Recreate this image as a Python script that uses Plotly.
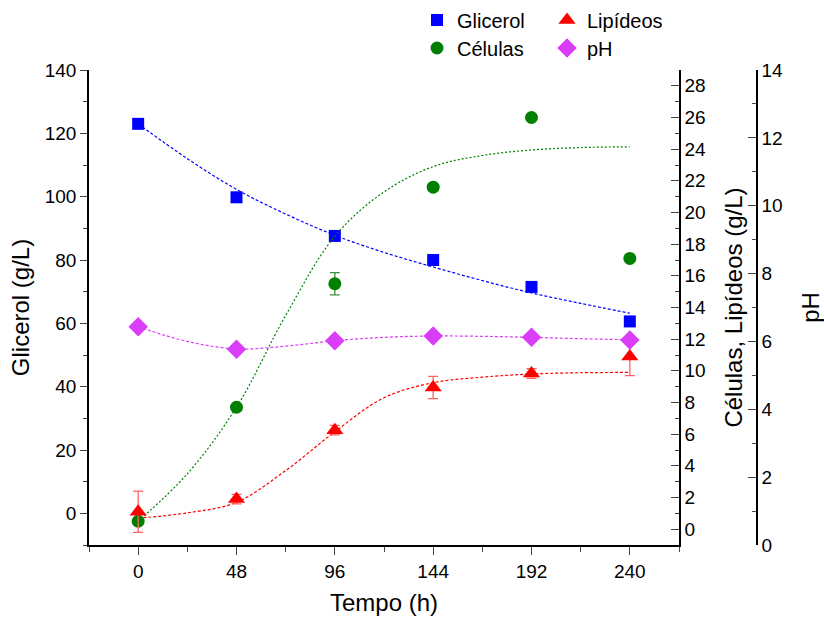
import plotly.graph_objects as go

# ---- data ----
time = [0, 48, 96, 144, 192, 240]
glicerol = [123.0, 99.8, 87.6, 80.0, 71.5, 60.6]
celulas = [0.5, 7.7, 15.5, 21.6, 26.0, 17.1]
celulas_err = [0.0, 0.0, 0.7, 0.0, 0.0, 0.0]
lipideos = [1.1, 1.9, 6.25, 8.95, 9.83, 10.9]
lipideos_err = [1.3, 0.3, 0.3, 0.7, 0.3, 1.2]
ph = [6.43, 5.77, 6.02, 6.16, 6.12, 6.04]

# fitted curves
time_fit = [0, 24, 48, 72, 96, 120, 144, 168, 192, 216, 240]
glicerol_fit = [123.0, 112.0, 102.3, 94.5, 87.8, 82.4, 77.8, 73.5, 69.6, 66.3, 63.2]
celulas_fit = [0.5, 3.5, 7.7, 13.5, 18.5, 21.3, 22.9, 23.6, 23.95, 24.1, 24.15]
lipideos_fit = [0.7, 1.03, 1.7, 3.7, 6.15, 8.3, 9.25, 9.6, 9.8, 9.88, 9.9]
ph_fit = [6.43, 6.0, 5.78, 5.86, 6.02, 6.12, 6.16, 6.15, 6.12, 6.08, 6.05]

x_ticks = [0, 48, 96, 144, 192, 240]

BLUE = "#0000FF"
GREEN = "#007F00"
RED = "#FF0000"
MAG = "#D93DF7"
FONT = "Liberation Sans, Arial, sans-serif"

fig = go.Figure()

# fit lines
fig.add_trace(go.Scatter(x=time_fit, y=glicerol_fit, mode="lines", line=dict(color=BLUE, width=1.2, dash="3px,2px", shape="spline"), showlegend=False, yaxis="y"))
fig.add_trace(go.Scatter(x=time_fit, y=celulas_fit, mode="lines", line=dict(color=GREEN, width=1.2, dash="2px,2px", shape="spline"), showlegend=False, yaxis="y2"))
fig.add_trace(go.Scatter(x=time_fit, y=lipideos_fit, mode="lines", line=dict(color=RED, width=1.2, dash="3px,2px", shape="spline"), showlegend=False, yaxis="y2"))
fig.add_trace(go.Scatter(x=time_fit, y=ph_fit, mode="lines", line=dict(color=MAG, width=1.2, dash="3px,2px", shape="spline"), showlegend=False, yaxis="y3"))

# markers
fig.add_trace(go.Scatter(x=time, y=glicerol, mode="markers", name="Glicerol",
                         marker=dict(symbol="square", size=12, color=BLUE), yaxis="y", legend="legend"))
fig.add_trace(go.Scatter(x=time, y=celulas, mode="markers", name="Células",
                         marker=dict(symbol="circle", size=13, color=GREEN),
                         error_y=dict(type="data", array=celulas_err, color="#3A8F3A", thickness=1.3, width=5),
                         yaxis="y2", legend="legend2"))
fig.add_trace(go.Scatter(x=time, y=lipideos, mode="markers", name="Lipídeos",
                         marker=dict(symbol="triangle-up", size=15, color=RED),
                         error_y=dict(type="data", array=lipideos_err, color="#FF6060", thickness=1.3, width=5),
                         yaxis="y2", legend="legend3"))
fig.add_trace(go.Scatter(x=time, y=ph, mode="markers", name="pH",
                         marker=dict(symbol="diamond", size=15, color=MAG), yaxis="y3", legend="legend4"))

L, R, T, B = 89, 55, 70, 74
W, H = 824, 619
pw = W - L - R
ph_ = H - T - B

def px_x(px):
    return (px - L) / pw

def px_y(py):
    return (H - B - py) / ph_

legend_common = dict(bgcolor="rgba(0,0,0,0)", font=dict(family=FONT, size=20, color="black"),
                     xanchor="left", yanchor="middle", itemsizing="trace")

fig.update_layout(
    width=W, height=H,
    margin=dict(l=L, r=R, t=T, b=B, autoexpand=False),
    plot_bgcolor="white", paper_bgcolor="white",
    font=dict(family=FONT, size=19, color="black"),
    xaxis=dict(domain=[0, px_x(679)], range=[-24, 264], tickvals=x_ticks,
               ticks="outside", ticklen=8, tickwidth=1.3, showline=True, linecolor="black", linewidth=1.5,
               showgrid=False, zeroline=False,
               minor=dict(dtick=24, tick0=0, ticks="outside", ticklen=5, tickwidth=1.3),
               title=dict(text="Tempo (h)", font=dict(size=24), standoff=14),
               tickfont=dict(size=19)),
    yaxis=dict(range=[-10, 140], dtick=20, tick0=0, ticks="outside", ticklen=7, tickwidth=1.3,
               showline=True, linecolor="black", linewidth=1.5, showgrid=False, zeroline=False,
               minor=dict(dtick=10, tick0=0, ticks="outside", ticklen=4, tickwidth=1.3),
               title=dict(text="Glicerol (g/L)", font=dict(size=24), standoff=8),
               tickfont=dict(size=19)),
    yaxis2=dict(range=[-1, 29], dtick=2, tick0=0, overlaying="y", side="right", anchor="x",
                ticks="inside", ticklen=8, tickwidth=1.3, showline=True, linecolor="black", linewidth=1.5,
                showgrid=False, zeroline=False,
                minor=dict(dtick=1, tick0=0, ticks="inside", ticklen=4, tickwidth=1.3),
                title=dict(text="Células, Lipídeos (g/L)", font=dict(size=24), standoff=20),
                tickfont=dict(size=19)),
    yaxis3=dict(range=[0, 14], dtick=2, tick0=0, overlaying="y", side="right", anchor="free",
                position=px_x(757),
                ticks="inside", ticklen=8, tickwidth=1.3, showline=True, linecolor="black", linewidth=1.5,
                showgrid=False, zeroline=False,
                minor=dict(dtick=1, tick0=0, ticks="inside", ticklen=4, tickwidth=1.3),
                title=dict(text="pH", font=dict(size=24), standoff=22),
                tickfont=dict(size=19)),
    legend=dict(x=px_x(417), y=px_y(20), **legend_common),
    legend2=dict(x=px_x(417), y=px_y(48), **legend_common),
    legend3=dict(x=px_x(547), y=px_y(20), **legend_common),
    legend4=dict(x=px_x(547), y=px_y(48), **legend_common),
)

fig.write_html("out.html")
